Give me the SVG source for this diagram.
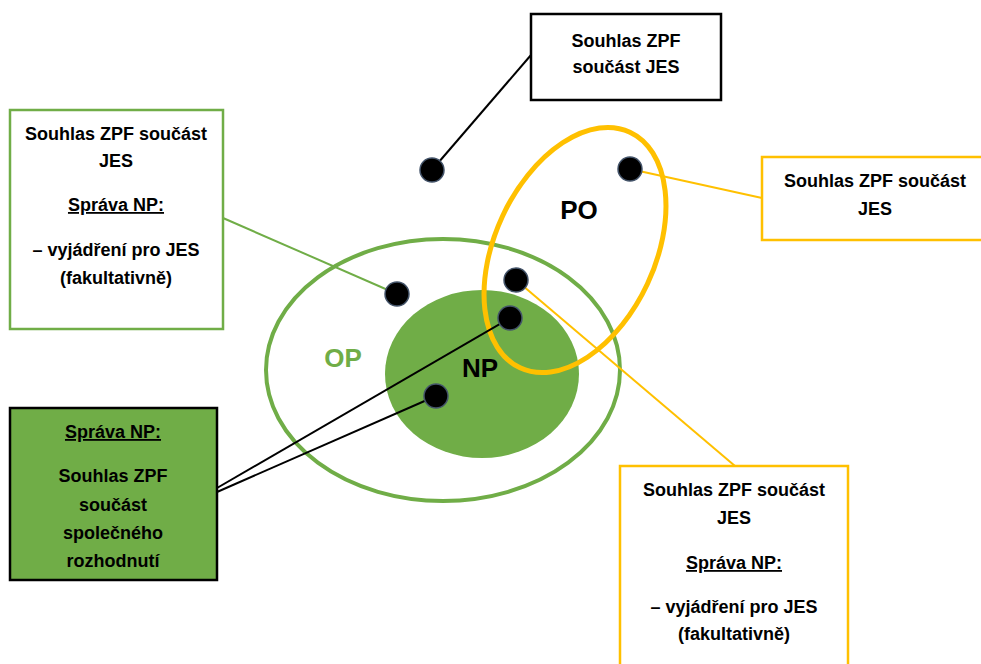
<svg xmlns="http://www.w3.org/2000/svg" width="981" height="664" viewBox="0 0 981 664">
<style>
.t{font-family:"Liberation Sans","Open Sans",sans-serif;font-weight:bold;font-size:18px;fill:#000;text-anchor:middle}
.u{text-decoration:underline}
.lbl{font-family:"Liberation Sans","Open Sans",sans-serif;font-weight:bold;font-size:26px;text-anchor:middle}
.dot{fill:#000;stroke:#44546A;stroke-width:1.5}
.box{fill:#fff;stroke-width:2.5}
</style>
<rect width="981" height="664" fill="#fff"/>
<g id="areas">
<ellipse id="OP" cx="443" cy="370" rx="177" ry="131" fill="none" stroke="#70AD47" stroke-width="4"/>
<ellipse id="NP" cx="482" cy="374" rx="97" ry="84" fill="#70AD47"/>
<ellipse id="PO" cx="575" cy="250" rx="80" ry="130" fill="none" stroke="#FFC000" stroke-width="5" transform="rotate(25 575 250)"/>
<text class="lbl" x="343" y="367" fill="#70AD47">OP</text>
<text class="lbl" x="480" y="377" fill="#000">NP</text>
<text class="lbl" x="579" y="219" fill="#000">PO</text>
</g>
<g id="connectors" fill="none" stroke-width="2">
<line x1="531" y1="55" x2="432" y2="170" stroke="#000"/>
<line x1="223" y1="218" x2="397" y2="294" stroke="#70AD47"/>
<line x1="762" y1="198" x2="630" y2="169" stroke="#FFC000"/>
<line x1="735" y1="466" x2="516" y2="280" stroke="#FFC000"/>
<line x1="217" y1="488" x2="510" y2="318" stroke="#000"/>
<line x1="217" y1="492" x2="436" y2="396" stroke="#000"/>
</g>
<g id="dots">
<circle class="dot" cx="432" cy="170" r="12"/>
<circle class="dot" cx="630" cy="169" r="12"/>
<circle class="dot" cx="397" cy="294" r="12"/>
<circle class="dot" cx="516" cy="280" r="12"/>
<circle class="dot" cx="510" cy="318" r="12"/>
<circle class="dot" cx="436" cy="396" r="12"/>
</g>
<g id="box-top">
<rect class="box" x="531" y="14" width="190" height="86" stroke="#000"/>
<text class="t" x="626" y="47">Souhlas ZPF</text>
<text class="t" x="626" y="73">součást JES</text>
</g>
<g id="box-left">
<rect class="box" x="10" y="110" width="213" height="219" stroke="#70AD47"/>
<text class="t" x="116" y="140">Souhlas ZPF součást</text>
<text class="t" x="116" y="167">JES</text>
<text class="t u" x="116" y="211">Správa NP:</text>
<text class="t" x="116" y="256">– vyjádření pro JES</text>
<text class="t" x="116" y="284">(fakultativně)</text>
</g>
<g id="box-right">
<rect class="box" x="762" y="157" width="225" height="83" stroke="#FFC000"/>
<text class="t" x="875" y="187">Souhlas ZPF součást</text>
<text class="t" x="875" y="215">JES</text>
</g>
<g id="box-bottom-right">
<rect class="box" x="620" y="466" width="228" height="205" stroke="#FFC000"/>
<text class="t" x="734" y="496">Souhlas ZPF součást</text>
<text class="t" x="734" y="524">JES</text>
<text class="t u" x="734" y="569">Správa NP:</text>
<text class="t" x="734" y="613">– vyjádření pro JES</text>
<text class="t" x="734" y="640">(fakultativně)</text>
</g>
<g id="box-bottom-left">
<rect x="10" y="408" width="207" height="172" fill="#70AD47" stroke="#000" stroke-width="2.5"/>
<text class="t u" x="113" y="438">Správa NP:</text>
<text class="t" x="113" y="482">Souhlas ZPF</text>
<text class="t" x="113" y="511">součást</text>
<text class="t" x="113" y="539">společného</text>
<text class="t" x="113" y="567">rozhodnutí</text>
</g>
</svg>
